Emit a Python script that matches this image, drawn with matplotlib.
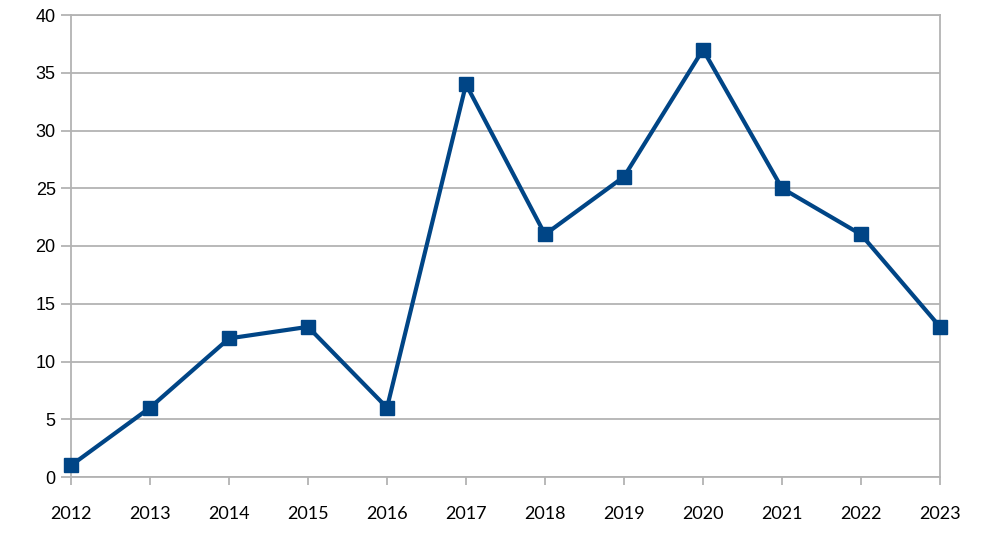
import matplotlib
matplotlib.use("Agg")
import matplotlib.pyplot as plt

years = ["2012", "2013", "2014", "2015", "2016", "2017", "2018", "2019", "2020", "2021", "2022", "2023"]
values = [1, 6, 12, 13, 6, 34, 21, 26, 37, 25, 21, 13]
yticks = [0, 5, 10, 15, 20, 25, 30, 35, 40]

fig = plt.figure(figsize=(9.94, 5.46), dpi=100)
ax = fig.add_axes([71/994, 69/546, (940-71)/994, (477-15)/546])

grid_c = "#b3b3b3"
x = list(range(len(years)))
ax.plot(x, values, color="#004586", linewidth=3, marker="s", markersize=10, zorder=3, clip_on=False)

ax.set_xlim(0, len(years) - 1)
ax.set_ylim(0, 40)
ax.set_yticks(yticks)
ax.set_yticklabels([str(v) for v in yticks], fontfamily="Liberation Sans", fontsize=13)
ax.set_xticks(x)
ax.set_xticklabels(years, fontfamily="Lato", fontsize=13)
ax.yaxis.grid(True, color=grid_c, linewidth=1.3)
ax.set_axisbelow(True)
for s in ax.spines.values():
    s.set_color(grid_c)
    s.set_linewidth(1.3)
ax.tick_params(axis="y", length=7, width=1.3, color=grid_c, pad=4)
ax.tick_params(axis="x", length=6, width=1.3, color=grid_c, pad=15)

fig.savefig("out.png", dpi=100)
